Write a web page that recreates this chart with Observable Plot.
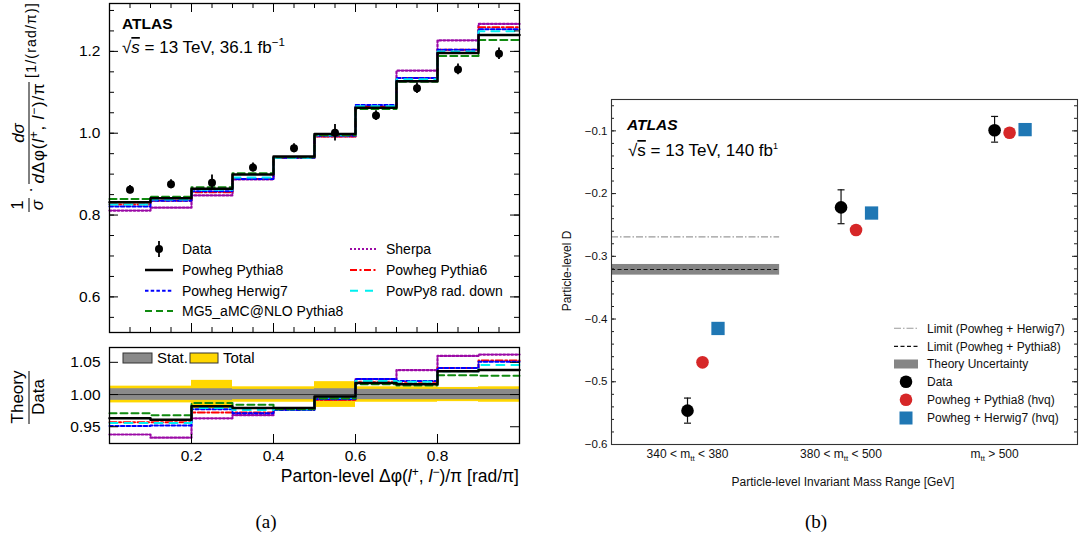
<!DOCTYPE html>
<html><head><meta charset="utf-8">
<script src="https://cdn.jsdelivr.net/npm/d3@7"></script>
<script src="https://cdn.jsdelivr.net/npm/@observablehq/plot@0.6"></script>
<style>
body{margin:0;background:#fff;}
#root{position:relative;width:1083px;height:538px;overflow:hidden;background:#fff;}
#root svg{position:absolute;max-width:none;}
</style></head><body><div id="root"></div>
<script>
// ---------------- Panel (a) data ----------------
const binEdges = [0.0,0.1,0.2,0.3,0.4,0.5,0.6,0.7,0.8,0.9,1.0];
const binCenters = [0.05,0.15,0.25,0.35,0.45,0.55,0.65,0.75,0.85,0.95];
const dataValues = [0.862,0.875,0.879,0.916,0.963,1.001,1.043,1.110,1.156,1.194];
const dataErrors = [0.010,0.011,0.019,0.011,0.011,0.020,0.012,0.013,0.013,0.014];
const powhegPythia8 = [0.831,0.841,0.864,0.899,0.943,0.998,1.062,1.127,1.196,1.240];
const powhegHerwig7 = [0.821,0.835,0.858,0.888,0.940,0.994,1.069,1.135,1.204,1.254];
const mg5Pythia8    = [0.839,0.845,0.868,0.902,0.941,0.995,1.059,1.126,1.189,1.228];
const sherpa        = [0.811,0.818,0.848,0.887,0.940,0.992,1.064,1.153,1.227,1.267];
const powhegPythia6 = [0.826,0.835,0.856,0.888,0.940,0.992,1.065,1.135,1.204,1.259];
const powPy8RadDown = [0.826,0.838,0.862,0.892,0.940,0.995,1.066,1.132,1.200,1.249];
// ratio Theory / Data
const ratioPowhegPythia8 = [0.963,0.961,0.982,0.979,0.979,0.997,1.018,1.016,1.036,1.038];
const ratioPowhegHerwig7 = [0.951,0.952,0.977,0.971,0.976,0.993,1.024,1.021,1.041,1.051];
const ratioMg5Pythia8    = [0.971,0.968,0.987,0.984,0.977,0.994,1.016,1.014,1.030,1.029];
const ratioSherpa        = [0.938,0.933,0.963,0.968,0.977,0.992,1.024,1.038,1.060,1.062];
const ratioPowhegPythia6 = [0.957,0.957,0.972,0.972,0.977,0.992,1.019,1.020,1.041,1.053];
const ratioPowPy8RadDown = [0.956,0.956,0.979,0.976,0.977,0.995,1.021,1.020,1.036,1.046];
const statUnc  = [0.009,0.009,0.009,0.008,0.008,0.009,0.008,0.008,0.008,0.008];
const totalUnc = [0.013,0.013,0.022,0.012,0.012,0.020,0.012,0.012,0.011,0.012];
const yTicksA = [0.6,0.8,1.0,1.2];
const yTicksRatio = [0.95,1.00,1.05];
const xTicksA = [0.2,0.4,0.6,0.8];

// ---------------- Panel (b) data ----------------
const massRanges = ["340 < m_tt < 380","380 < m_tt < 500","m_tt > 500"];
const massIndex = [0,1,2];
const dData      = [-0.546,-0.222,-0.099];
const dDataLow   = [-0.566,-0.248,-0.118];
const dDataHigh  = [-0.526,-0.194,-0.077];
const dPythia8   = [-0.469,-0.258,-0.103];
const dHerwig7   = [-0.415,-0.231,-0.098];
const limitHerwig7 = -0.269;
const limitPythia8 = -0.321;
const theoryUncBand = [-0.330,-0.313];
const limitRange = [-0.495,0.6];
const yTicksB = [-0.6,-0.5,-0.4,-0.3,-0.2,-0.1];

// ---------------- styles ----------------
const FONT = '"Liberation Sans", Arial, Helvetica, sans-serif';
const series = [
  {name:"Sherpa", v:sherpa, r:ratioSherpa, stroke:"#9b0aa6", w:2.2, dash:"2,2"},
  {name:"Powheg Pythia6", v:powhegPythia6, r:ratioPowhegPythia6, stroke:"#ff0000", w:2, dash:"7,2.5,2,2.5"},
  {name:"Powheg Herwig7", v:powhegHerwig7, r:ratioPowhegHerwig7, stroke:"#0000ff", w:2, dash:"3.5,2.2"},
  {name:"PowPy8 rad. down", v:powPy8RadDown, r:ratioPowPy8RadDown, stroke:"#00f0f0", w:2, dash:"8,7"},
  {name:"MG5_aMC@NLO Pythia8", v:mg5Pythia8, r:ratioMg5Pythia8, stroke:"#108a10", w:2, dash:"7,4"},
  {name:"Powheg Pythia8", v:powhegPythia8, r:ratioPowhegPythia8, stroke:"#000000", w:2.5, dash:null}
];
function stepRows(vals){
  const rows = vals.map((v,i)=>({x:binEdges[i], y:v}));
  rows.push({x:binEdges[vals.length], y:vals[vals.length-1]});
  return rows;
}
const root = document.getElementById("root");

// ---------------- Plot (a) top ----------------
const WA = 530, HA = 340, mA = {l:109,r:11,t:3,b:8};
const fwA = WA-mA.l-mA.r, fhA = HA-mA.t-mA.b;
const minorXA = d3.range(1,20).map(i=>+(i*0.05).toFixed(2));
const minorYA = d3.range(11,27).map(i=>+(i*0.05).toFixed(2));
const dataRows = binCenters.map((x,i)=>({x, y:dataValues[i], lo:dataValues[i]-dataErrors[i], hi:dataValues[i]+dataErrors[i]}));
const plotA = Plot.plot({
  width:WA, height:HA, marginLeft:mA.l, marginRight:mA.r, marginTop:mA.t, marginBottom:mA.b,
  style:{fontFamily:FONT, fontSize:"15.5px", background:"transparent", color:"black"},
  x:{domain:[0,1], axis:null},
  y:{domain:[0.513,1.317]},
  marks:[
    ...series.map(s=>Plot.line(stepRows(s.v),{x:"x",y:"y",curve:"step-after",stroke:s.stroke,strokeWidth:s.w,strokeDasharray:s.dash})),
    Plot.ruleX(dataRows,{x:"x",y1:"lo",y2:"hi",stroke:"black",strokeWidth:1.8}),
    Plot.dot(dataRows,{x:"x",y:"y",r:4,fill:"black"}),
    Plot.tickY(minorYA,{insetRight:fwA-5,stroke:"black"}),
    Plot.tickY(yTicksA,{insetRight:fwA-9,stroke:"black"}),
    Plot.tickY(minorYA,{insetLeft:fwA-5,stroke:"black"}),
    Plot.tickY(yTicksA,{insetLeft:fwA-9,stroke:"black"}),
    Plot.tickX(minorXA,{insetBottom:fhA-5,stroke:"black"}),
    Plot.tickX(xTicksA,{insetBottom:fhA-9,stroke:"black"}),
    Plot.tickX(minorXA,{insetTop:fhA-5,stroke:"black"}),
    Plot.tickX(xTicksA,{insetTop:fhA-9,stroke:"black"}),
    Plot.frame({stroke:"black",strokeWidth:1.3}),
    Plot.axisY(yTicksA,{tickSize:0,tickPadding:9,tickFormat:d3.format(".1f"),label:null})
  ]
});
plotA.style.left="0px"; plotA.style.top="0px";
root.appendChild(plotA);

// ---------------- Plot (a) ratio ----------------
const WR = 530, HR = 150, mR = {l:109,r:11,t:7,b:47};
const fwR = WR-mR.l-mR.r, fhR = HR-mR.t-mR.b;
const uncRows = binCenters.map((c,i)=>({x1:binEdges[i], x2:binEdges[i+1], t1:1-totalUnc[i], t2:1+totalUnc[i], s1:1-statUnc[i], s2:1+statUnc[i]}));
const plotR = Plot.plot({
  width:WR, height:HR, marginLeft:mR.l, marginRight:mR.r, marginTop:mR.t, marginBottom:mR.b,
  style:{fontFamily:FONT, fontSize:"15.5px", background:"transparent", color:"black"},
  x:{domain:[0,1]},
  y:{domain:[0.924,1.073]},
  marks:[
    Plot.rect(uncRows,{x1:"x1",x2:"x2",y1:"t1",y2:"t2",fill:"#ffd700"}),
    Plot.rect(uncRows,{x1:"x1",x2:"x2",y1:"s1",y2:"s2",fill:"#8a8a8a"}),
    Plot.ruleY([1],{stroke:"#333",strokeWidth:1}),
    ...series.map(s=>Plot.line(stepRows(s.r),{x:"x",y:"y",curve:"step-after",stroke:s.stroke,strokeWidth:s.w,strokeDasharray:s.dash})),
    Plot.tickY(yTicksRatio,{insetRight:fwR-9,stroke:"black"}),
    Plot.tickY(yTicksRatio,{insetLeft:fwR-9,stroke:"black"}),
    Plot.tickX(xTicksA,{insetTop:fhR-9,stroke:"black"}),
    Plot.frame({stroke:"black",strokeWidth:1.3}),
    Plot.axisY(yTicksRatio,{tickSize:0,tickPadding:9,tickFormat:d3.format(".2f"),label:null}),
    Plot.axisX(xTicksA,{tickSize:0,tickPadding:6,tickFormat:d3.format(".1f"),label:null})
  ]
});
plotR.style.left="0px"; plotR.style.top="340px";
root.appendChild(plotR);

// ---------------- Plot (b) ----------------
const WB = 533, HB = 538, mB = {l:61,r:6,t:99,b:94};
const fwB = WB-mB.l-mB.r;
const minorYB = d3.range(-29,-2).map(i=>+(i*0.02).toFixed(2));
const rowsB = massIndex.map(i=>({i, d:dData[i], lo:dDataLow[i], hi:dDataHigh[i], p8:dPythia8[i], h7:dHerwig7[i]}));
const capSymbol = {draw(ctx,size){const r=Math.sqrt(size/Math.PI); ctx.moveTo(-r,0); ctx.lineTo(r,0);}};
const plotB = Plot.plot({
  width:WB, height:HB, marginLeft:mB.l, marginRight:mB.r, marginTop:mB.t, marginBottom:mB.b,
  style:{fontFamily:FONT, fontSize:"11.5px", background:"transparent", color:"#111"},
  x:{domain:[-0.495,2.54]},
  y:{domain:[-0.6,-0.05]},
  marks:[
    Plot.rect([theoryUncBand],{x1:()=>limitRange[0],x2:()=>limitRange[1],y1:d=>d[0],y2:d=>d[1],fill:"#858585"}),
    Plot.ruleY([limitPythia8],{x1:limitRange[0],x2:limitRange[1],stroke:"#111",strokeWidth:1.2,strokeDasharray:"4,2.5"}),
    Plot.ruleY([limitHerwig7],{x1:limitRange[0],x2:limitRange[1],stroke:"#9a9a9a",strokeWidth:1.1,strokeDasharray:"7,2,1.5,2"}),
    Plot.ruleX(rowsB,{x:"i",y1:"lo",y2:"hi",stroke:"#111",strokeWidth:1.2}),
    Plot.dot(rowsB,{x:"i",y:"lo",symbol:capSymbol,r:3.5,stroke:"#111",strokeWidth:1.2,fill:"none"}),
    Plot.dot(rowsB,{x:"i",y:"hi",symbol:capSymbol,r:3.5,stroke:"#111",strokeWidth:1.2,fill:"none"}),
    Plot.dot(rowsB,{x:"i",y:"d",r:6.3,fill:"black"}),
    Plot.dot(rowsB,{x:"i",y:"p8",r:6.3,fill:"#d62728",dx:15}),
    Plot.dot(rowsB,{x:"i",y:"h7",r:7.5,symbol:"square",fill:"#1f77b4",dx:30.5}),
    Plot.tickY(minorYB,{insetRight:fwB-3,stroke:"#222"}),
    Plot.tickY(yTicksB,{insetRight:fwB-5,stroke:"#222"}),
    Plot.tickY(minorYB,{insetLeft:fwB-3,stroke:"#222"}),
    Plot.tickY(yTicksB,{insetLeft:fwB-5,stroke:"#222"}),
    Plot.frame({stroke:"#333",strokeWidth:1.1}),
    Plot.axisY(yTicksB,{tickSize:0,tickPadding:4,tickFormat:d3.format(".1f"),label:null}),
    Plot.axisX(massIndex,{tickSize:0,tickPadding:5,fontSize:12,tickFormat:i=>massRanges[i],label:null})
  ]
});
plotB.style.left="550px"; plotB.style.top="0px";
root.appendChild(plotB);
// subscript "tt" in category labels
d3.select(plotB).selectAll('g[aria-label="x-axis tick label"] text').each(function(){
  const t = d3.select(this); const s = t.text(); const parts = s.split("m_tt");
  t.text(null);
  t.append("tspan").text(parts[0]+"m");
  t.append("tspan").attr("font-size","8px").attr("dy","3").text("tt");
  t.append("tspan").attr("dy","-3").text(parts[1]);
});

// ---------------- Overlay annotations ----------------
const ov = d3.select(root).append("svg").attr("width",1083).attr("height",538)
  .style("left","0px").style("top","0px").attr("font-family",FONT).style("pointer-events","none");

// (a) ATLAS labels
ov.append("text").attr("x",122).attr("y",29).attr("font-weight","bold").attr("font-size",15.5).text("ATLAS");
{
  const t = ov.append("text").attr("x",122).attr("y",53).attr("font-size",17);
  t.append("tspan").text("√");
  t.append("tspan").attr("font-style","italic").attr("text-decoration","overline").text("s");
  t.append("tspan").text(" = 13 TeV, 36.1 fb");
  t.append("tspan").attr("font-size",11.5).attr("dy",-7).text("−1");
}
// (a) legend
function legendSample(g, x1, x2, y, s){
  g.append("line").attr("x1",x1).attr("x2",x2).attr("y1",y).attr("y2",y)
    .attr("stroke",s.stroke).attr("stroke-width",s.w).attr("stroke-dasharray",s.dash);
}
const byName = Object.fromEntries(series.map(s=>[s.name,s]));
{
  const rows = [249,270,290.7,311];
  ov.append("line").attr("x1",159).attr("x2",159).attr("y1",241).attr("y2",257).attr("stroke","black").attr("stroke-width",1.8);
  ov.append("circle").attr("cx",159).attr("cy",249).attr("r",4).attr("fill","black");
  const left = ["Data","Powheg Pythia8","Powheg Herwig7","MG5_aMC@NLO Pythia8"];
  left.forEach((n,i)=>{
    if(i>0) legendSample(ov,145,173,rows[i],byName[n]);
    ov.append("text").attr("x",182).attr("y",rows[i]).attr("dy","0.35em").attr("font-size",14).text(n);
  });
  const right = ["Sherpa","Powheg Pythia6","PowPy8 rad. down"];
  right.forEach((n,i)=>{
    legendSample(ov,350,378,rows[i],byName[n]);
    ov.append("text").attr("x",386).attr("y",rows[i]).attr("dy","0.35em").attr("font-size",14).text(n);
  });
}
// ratio legend
ov.append("rect").attr("x",123).attr("y",353).attr("width",29).attr("height",10).attr("fill","#8a8a8a").attr("stroke","#333").attr("stroke-width",1);
ov.append("text").attr("x",157).attr("y",358).attr("dy","0.35em").attr("font-size",15).text("Stat.");
ov.append("rect").attr("x",190).attr("y",353).attr("width",28).attr("height",10).attr("fill","#ffd700").attr("stroke","#333").attr("stroke-width",1);
ov.append("text").attr("x",223).attr("y",358).attr("dy","0.35em").attr("font-size",15).text("Total");

// (a) y-axis label (rotated)
{
  const g = ov.append("g").attr("transform","rotate(-90)").attr("font-size",17);
  g.append("text").attr("x",-205).attr("y",23).attr("text-anchor","middle").text("1");
  g.append("line").attr("x1",-212).attr("x2",-198).attr("y1",29).attr("y2",29).attr("stroke","black").attr("stroke-width",1);
  g.append("text").attr("x",-205).attr("y",43).attr("text-anchor","middle").attr("font-style","italic").text("σ");
  g.append("text").attr("x",-190).attr("y",36).attr("text-anchor","middle").text("·");
  g.append("text").attr("x",-133).attr("y",24).attr("text-anchor","middle").attr("font-style","italic").text("dσ");
  g.append("line").attr("x1",-184).attr("x2",-82).attr("y1",29).attr("y2",29).attr("stroke","black").attr("stroke-width",1);
  const den = g.append("text").attr("x",-133).attr("y",44).attr("text-anchor","middle").attr("font-size",17).attr("letter-spacing",0.8);
  den.append("tspan").attr("font-style","italic").text("d");
  den.append("tspan").text("Δφ(");
  den.append("tspan").attr("font-style","italic").text("l");
  den.append("tspan").attr("font-size",12).attr("dy",-6).text("+");
  den.append("tspan").attr("dy",6).text(", ");
  den.append("tspan").attr("font-style","italic").text("l");
  den.append("tspan").attr("font-size",12).attr("dy",-6).text("−");
  den.append("tspan").attr("dy",6).text(")/π");
  g.append("text").attr("x",-40).attr("y",36).attr("text-anchor","middle").attr("font-size",14).attr("letter-spacing",1.2).text("[1/(rad/π)]");
}
// ratio y label
{
  const g = ov.append("g").attr("transform","rotate(-90)").attr("font-size",17);
  g.append("text").attr("x",-397).attr("y",23).attr("text-anchor","middle").text("Theory");
  g.append("line").attr("x1",-424).attr("x2",-371).attr("y1",29).attr("y2",29).attr("stroke","black").attr("stroke-width",1);
  g.append("text").attr("x",-397).attr("y",44).attr("text-anchor","middle").text("Data");
}
// (a) x title
{
  const t = ov.append("text").attr("x",519).attr("y",482).attr("text-anchor","end").attr("font-size",17.5);
  t.append("tspan").text("Parton-level Δφ(");
  t.append("tspan").attr("font-style","italic").text("l");
  t.append("tspan").attr("font-size",12).attr("dy",-6).text("+");
  t.append("tspan").attr("dy",6).text(", ");
  t.append("tspan").attr("font-style","italic").text("l");
  t.append("tspan").attr("font-size",12).attr("dy",-6).text("−");
  t.append("tspan").attr("dy",6).text(")/π [rad/π]");
}
ov.append("text").attr("x",266).attr("y",528).attr("text-anchor","middle").attr("font-family",'"Liberation Serif", "Times New Roman", serif').attr("font-size",19).text("(a)");
ov.append("text").attr("x",816).attr("y",528).attr("text-anchor","middle").attr("font-family",'"Liberation Serif", "Times New Roman", serif').attr("font-size",19).text("(b)");

// (b) ATLAS labels
ov.append("text").attr("x",627).attr("y",130).attr("font-weight","bold").attr("font-style","italic").attr("font-size",15.5).text("ATLAS");
{
  const t = ov.append("text").attr("x",628).attr("y",156).attr("font-size",17);
  t.append("tspan").text("√");
  t.append("tspan").attr("text-decoration","overline").text("s");
  t.append("tspan").text(" = 13 TeV, 140 fb");
  t.append("tspan").attr("font-size",9).attr("dy",-7).text("1");
}
// (b) legend
{
  const rows = [328.3,346.3,364,381.7,399.7,418];
  const x1 = 894, x2 = 918, xc = 906, tx = 927;
  ov.append("line").attr("x1",x1).attr("x2",x2).attr("y1",rows[0]).attr("y2",rows[0]).attr("stroke","#9a9a9a").attr("stroke-width",1.1).attr("stroke-dasharray","7,2,1.5,2");
  ov.append("line").attr("x1",x1).attr("x2",x2).attr("y1",rows[1]).attr("y2",rows[1]).attr("stroke","#111").attr("stroke-width",1.2).attr("stroke-dasharray","4,2.5");
  ov.append("rect").attr("x",x1).attr("y",rows[2]-4.5).attr("width",x2-x1).attr("height",9).attr("fill","#858585");
  ov.append("circle").attr("cx",xc).attr("cy",rows[3]).attr("r",6.3).attr("fill","black");
  ov.append("circle").attr("cx",xc).attr("cy",rows[4]).attr("r",6.3).attr("fill","#d62728");
  ov.append("rect").attr("x",xc-6.5).attr("y",rows[5]-6.5).attr("width",13).attr("height",13).attr("fill","#1f77b4");
  const names = ["Limit (Powheg + Herwig7)","Limit (Powheg + Pythia8)","Theory Uncertainty","Data","Powheg + Pythia8 (hvq)","Powheg + Herwig7 (hvq)"];
  names.forEach((n,i)=>ov.append("text").attr("x",tx).attr("y",rows[i]).attr("dy","0.35em").attr("font-size",12).attr("fill","#111").text(n));
}
ov.append("text").attr("transform","translate(571,271) rotate(-90)").attr("text-anchor","middle").attr("font-size",12).attr("fill","#111").text("Particle-level D");
ov.append("text").attr("x",843).attr("y",486).attr("text-anchor","middle").attr("font-size",12).attr("fill","#111").text("Particle-level Invariant Mass Range [GeV]");
</script></body></html>
